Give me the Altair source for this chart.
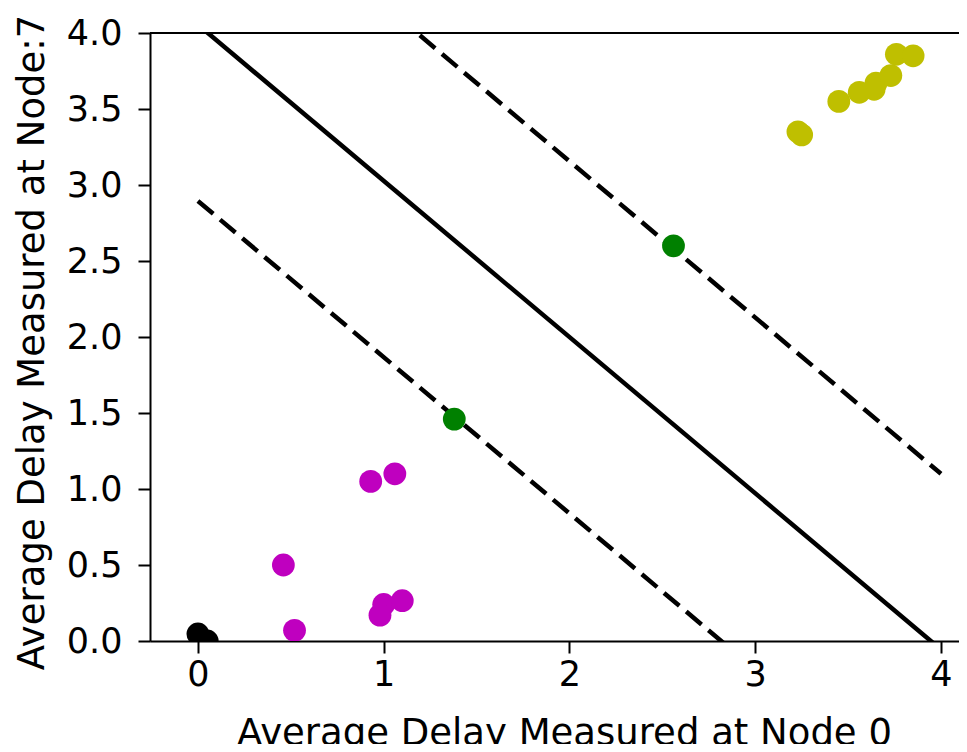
import altair as alt
import pandas as pd

# ---- data ----
yellow_x = [3.23, 3.25, 3.45, 3.56, 3.64, 3.65, 3.73, 3.76, 3.85]
yellow_y = [3.35, 3.33, 3.55, 3.61, 3.63, 3.67, 3.72, 3.86, 3.85]
magenta_x = [0.46, 0.52, 0.93, 1.06, 1.00, 0.98, 1.10]
magenta_y = [0.50, 0.07, 1.05, 1.10, 0.24, 0.17, 0.265]
green_x = [1.38, 2.56]
green_y = [1.46, 2.60]
black_x = [0.00, 0.05]
black_y = [0.046, 0.00]

line_x = [0.0, 4.0]
solid_y = [4.055, -0.056]
lower_dash_y = [2.895, -1.216]
upper_dash_y = [5.213, 1.10]

classes = ["black", "magenta", "green", "yellow"]
class_colors = ["#000000", "#bf00bf", "#008000", "#bfbf00"]

rows = []
for name, xs, ys in [("black", black_x, black_y), ("magenta", magenta_x, magenta_y),
                     ("green", green_x, green_y), ("yellow", yellow_x, yellow_y)]:
    for a, b in zip(xs, ys):
        rows.append({"x": a, "y": b, "cls": name})
pts = pd.DataFrame(rows)

lines = pd.DataFrame(
    [{"x": a, "y": b, "line": "solid"} for a, b in zip(line_x, solid_y)]
    + [{"x": a, "y": b, "line": "lower"} for a, b in zip(line_x, lower_dash_y)]
    + [{"x": a, "y": b, "line": "upper"} for a, b in zip(line_x, upper_dash_y)]
)
top = pd.DataFrame({"y": [4.0]})

W, H = 809, 608
FONT = "DejaVu Sans"

xscale = alt.Scale(domain=[-0.258, 4.097], nice=False, zero=False)
yscale = alt.Scale(domain=[0, 4], nice=False, zero=False)

xaxis = alt.Axis(values=[0, 1, 2, 3, 4], format="d", grid=False,
                 title="Average Delay Measured at Node 0",
                 labelFontSize=35, titleFontSize=37, titleFontWeight="normal",
                 labelFont=FONT, titleFont=FONT, labelColor="black", titleColor="black",
                 tickSize=12, tickWidth=2, tickColor="black", domainColor="black", domainWidth=2,
                 labelPadding=4, titleBaseline="alphabetic", titleY=103, titleX=414,
                 labelFlush=False)
yaxis = alt.Axis(values=[0, 0.5, 1, 1.5, 2, 2.5, 3, 3.5, 4], format=".1f", grid=False,
                 title="Average Delay Measured at Node:7",
                 labelFontSize=35, titleFontSize=37, titleFontWeight="normal",
                 labelFont=FONT, titleFont=FONT, labelColor="black", titleColor="black",
                 tickSize=12, tickWidth=2, tickColor="black", domainColor="black", domainWidth=2,
                 labelPadding=16, titleBaseline="alphabetic", titleX=-107, titleY=309,
                 titleAngle=270, labelFlush=False)

X = alt.X("x:Q", scale=xscale, axis=xaxis)
Y = alt.Y("y:Q", scale=yscale, axis=yaxis)

solid = alt.Chart(lines[lines.line == "solid"]).mark_line(
    color="black", strokeWidth=4.5, clip=True).encode(x=X, y=Y)
dashed = alt.Chart(lines[lines.line != "solid"]).mark_line(
    color="black", strokeWidth=4.5, strokeDash=[20, 9], clip=True).encode(
    x=X, y=Y, detail="line:N")
scatter = alt.Chart(pts).mark_circle(size=520, opacity=1, clip=True).encode(
    x=X, y=Y,
    color=alt.Color("cls:N", scale=alt.Scale(domain=classes, range=class_colors), legend=None))
top_rule = alt.Chart(top).mark_rule(color="black", strokeWidth=2).encode(
    y=Y, x=alt.value(0), x2=alt.value(W))

chart = alt.layer(solid, dashed, scatter, top_rule).properties(
    width=W, height=H,
    autosize=alt.AutoSizeParams(type="none"),
    padding={"left": 142, "top": 25, "right": 0, "bottom": 103},
).configure_view(stroke=None).configure(background="white")

chart.save("out.html", embed_options={"renderer": "svg", "actions": False})
